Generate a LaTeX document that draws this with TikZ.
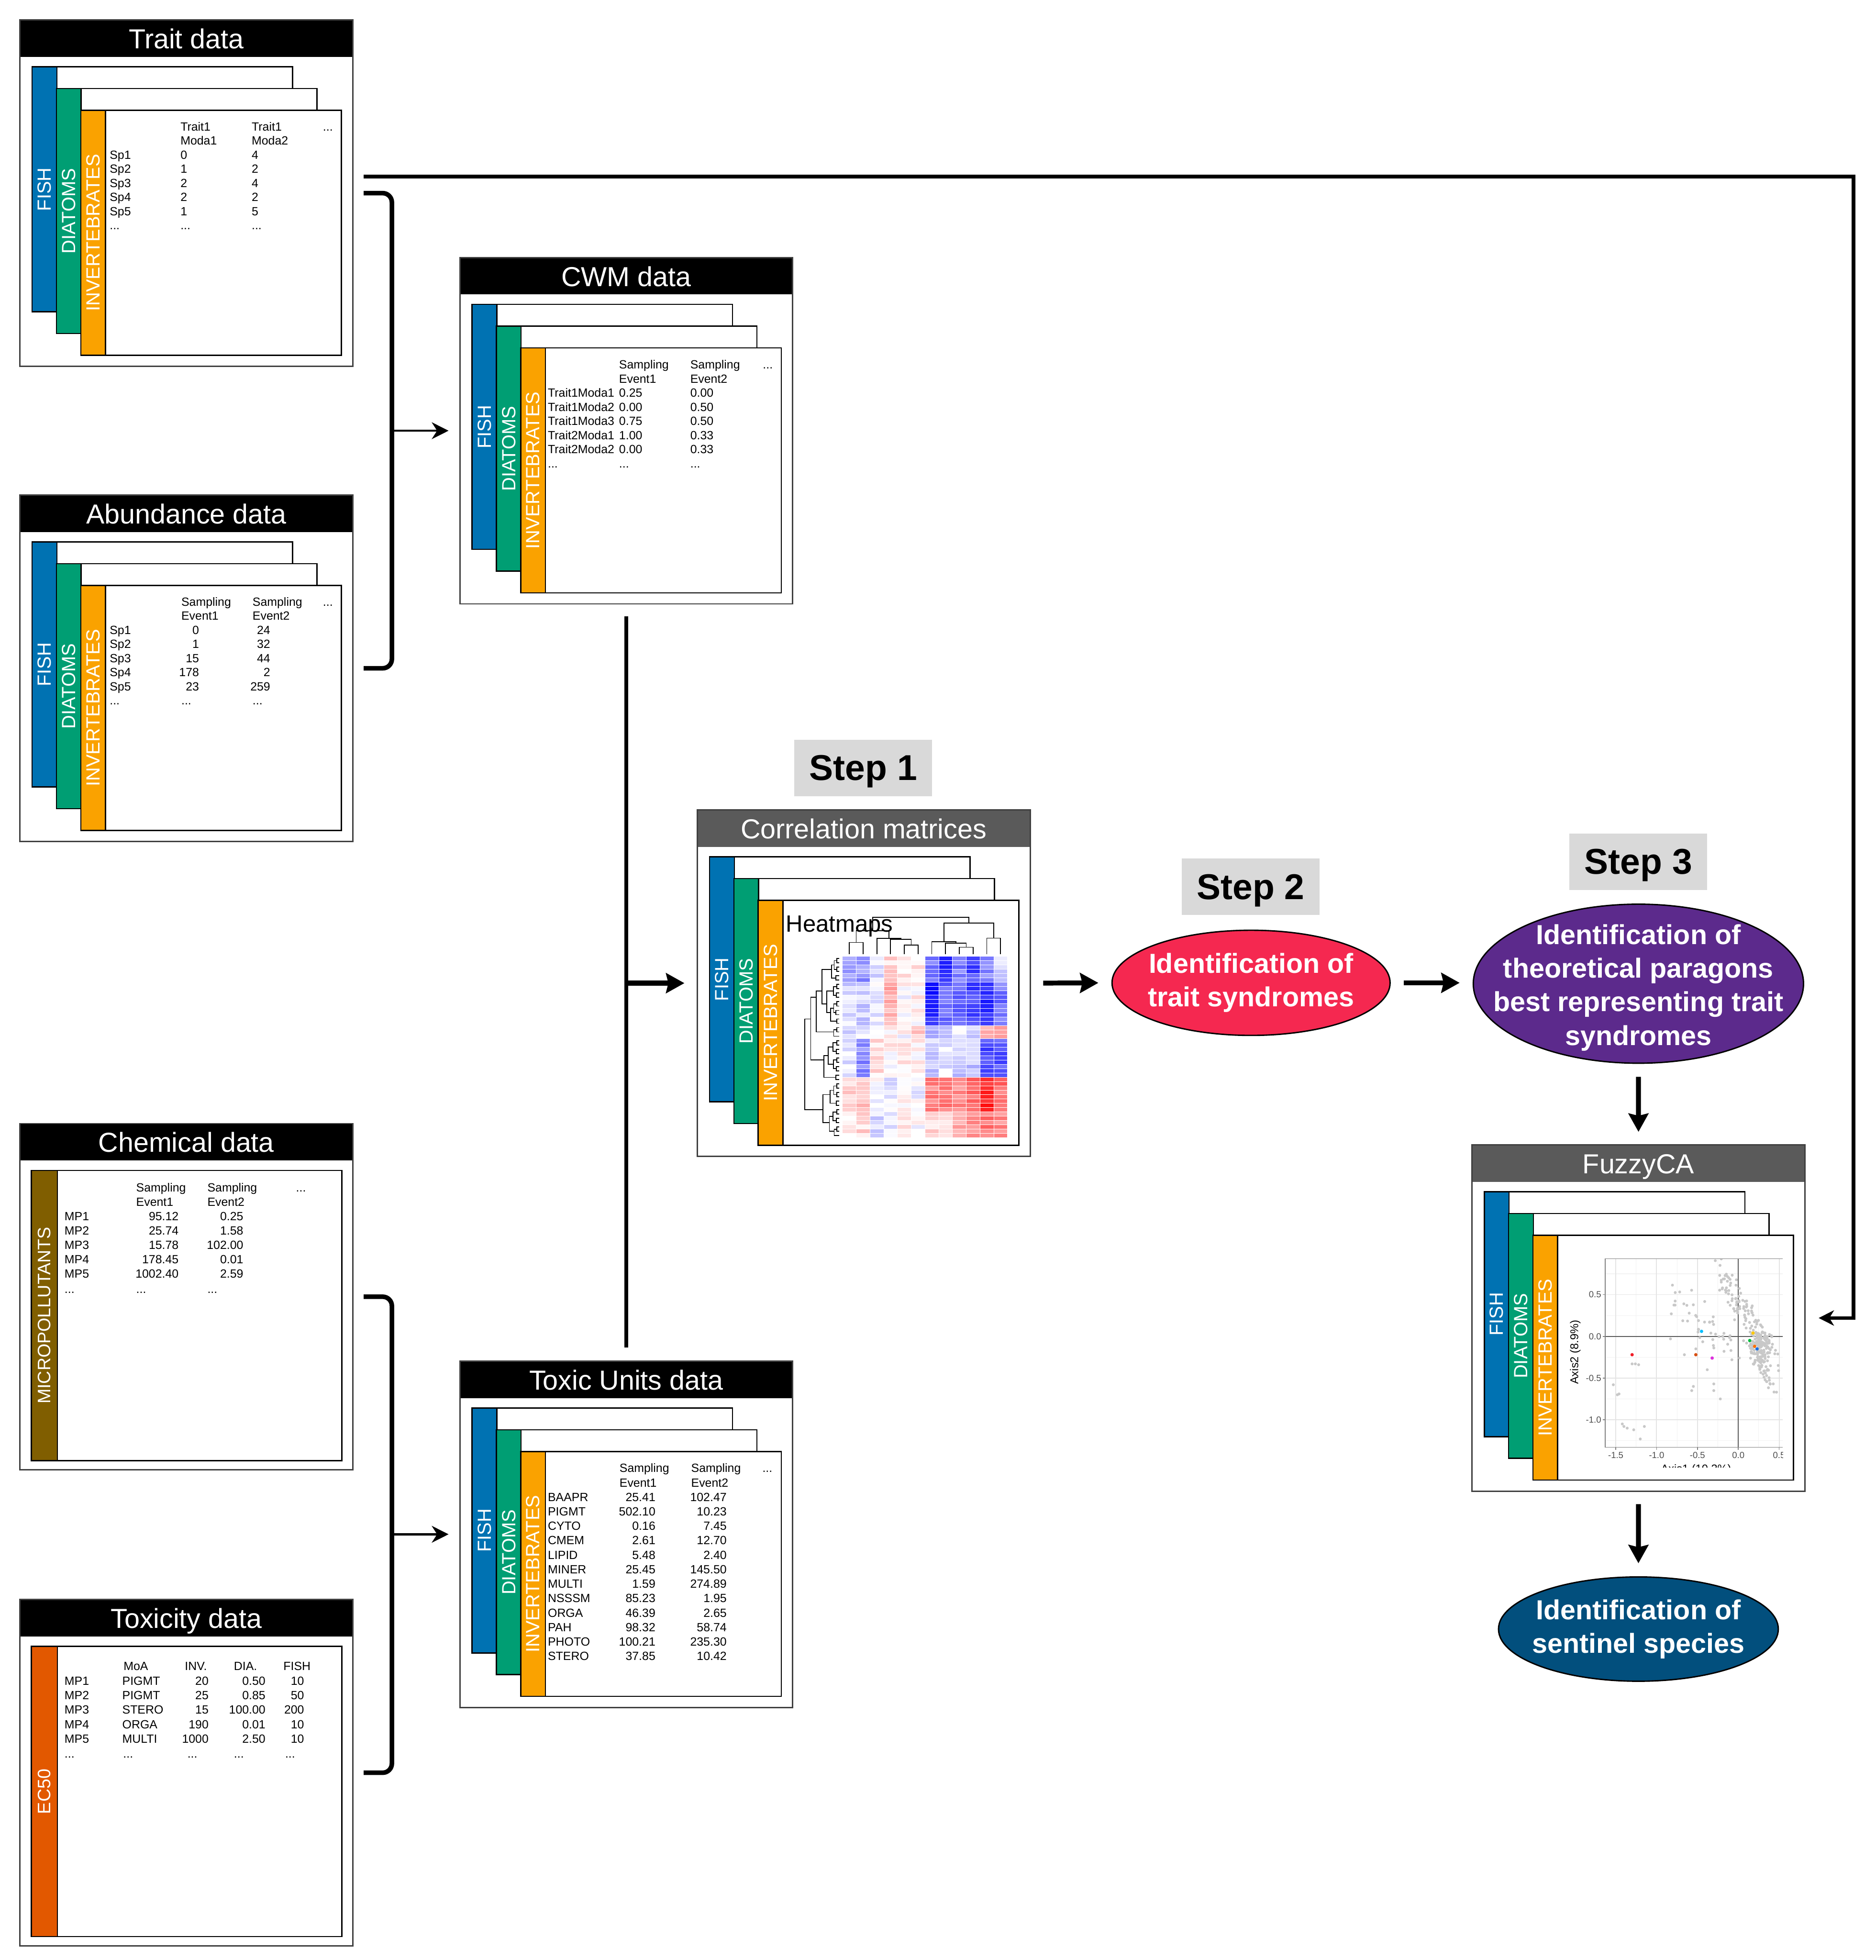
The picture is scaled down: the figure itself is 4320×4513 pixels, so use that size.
\documentclass[tikz,border=0pt]{standalone}
\usepackage{fontspec}
\setmainfont{Liberation Sans}
\usetikzlibrary{arrows.meta,calc,shapes.geometric}
\definecolor{fishc}{RGB}{0,114,178}
\definecolor{diac}{RGB}{0,158,115}
\definecolor{invc}{RGB}{250,162,0}
\definecolor{micc}{RGB}{128,94,0}
\definecolor{ecc}{RGB}{226,88,0}
\definecolor{hdrgray}{RGB}{90,90,90}
\definecolor{stepgray}{RGB}{217,217,217}
\definecolor{e1c}{RGB}{245,40,80}
\definecolor{e2c}{RGB}{92,42,140}
\definecolor{e3c}{RGB}{2,79,125}
\definecolor{ptgray}{RGB}{200,200,200}
\definecolor{gridmin}{RGB}{242,242,242}
\definecolor{gridmaj}{RGB}{228,228,228}
\definecolor{ptred}{RGB}{240,30,40}
\definecolor{ptbrown}{RGB}{215,80,20}
\definecolor{ptcyan}{RGB}{0,190,255}
\definecolor{ptmag}{RGB}{220,50,220}
\definecolor{ptyel}{RGB}{255,200,0}
\definecolor{ptgreen}{RGB}{0,190,60}
\definecolor{ptorange}{RGB}{255,110,0}
\definecolor{ptblue}{RGB}{20,110,230}

\tikzset{
 panelbox/.style={draw=none,fill=white,minimum width=7.66cm,minimum height=7.97cm,inner sep=0pt,outer sep=0pt,anchor=north west},
 panelline/.style={draw=black!75,line width=0.9pt},
 sheetline/.style={draw=black,line width=0.8pt},
 sidelabel/.style={text=white,font=\fontsize{12.5}{14}\selectfont,inner sep=0pt},
 cell/.style={font=\fontsize{7.8}{9}\selectfont,inner sep=0pt},
 titletext/.style={text=white,font=\fontsize{18}{21}\selectfont,inner sep=0pt,anchor=base},
 bracket/.style={line width=3pt,rounded corners=6pt},
 thinarrow/.style={line width=1.4pt,-{Stealth[length=11pt,width=11pt,inset=3.5pt]},shorten >=7.4pt},
 bigarrow/.style={line width=3.2pt,-{Stealth[length=12pt,width=13pt,inset=1.5pt]},shorten <=8.5pt,shorten >=8.5pt},
 vline/.style={line width=2.4pt},
 topline/.style={line width=2.3pt,-{Stealth[length=10pt,width=10pt,inset=3pt]},shorten >=9pt},
 stepbox/.style={fill=stepgray,minimum width=3.17cm,minimum height=1.3cm,inner sep=0pt,text depth=0pt,font=\bfseries\fontsize{23.5}{28}\selectfont},
 ellbox/.style={ellipse,draw=black,line width=0.9pt,inner sep=0pt},
 elltext/.style={text=white,align=center,inner sep=0pt,font=\bfseries\fontsize{18}{22}\selectfont},
 dend/.style={line width=0.55pt,black},
 gridminor/.style={gridmin,line width=0.35pt},
 gridmajor/.style={gridmaj,line width=0.6pt},
 zeroline/.style={black!65,line width=0.75pt},
 axisline/.style={black!50,line width=0.5pt},
 ticklab/.style={text=black!70,font=\fontsize{5.8}{7}\selectfont,inner sep=0pt},
 axislab/.style={text=black,font=\fontsize{7.4}{9}\selectfont,inner sep=0pt},
}

\newcommand\onesheet[5]{%
 \draw[sheetline,fill=white] ({#1},{#2}) rectangle ++(600,564);
 \draw[sheetline,fill=#3] ({#1},{#2}) rectangle ++(57,564);
 \node[sidelabel,rotate=90] (#5) at ({#1+28.5},{#2+282}) {#4};}
\newcommand\sheetstack[3]{%
 \onesheet{#1+28}{#2+108}{fishc}{FISH}{#3-fish}
 \onesheet{#1+84}{#2+158}{diac}{DIATOMS}{#3-dia}
 \onesheet{#1+140}{#2+208}{invc}{INVERTEBRATES}{#3-inv}}
\newcommand\singlesheet[5]{%
 \draw[sheetline,fill=white] ({#1+26},{#2+108}) rectangle ({#1+741},{#2+776});
 \draw[sheetline,fill=#3] ({#1+26},{#2+108}) rectangle ({#1+86},{#2+776});
 \node[sidelabel,font=\fontsize{11.8}{14}\selectfont,rotate=90] (#5) at ({#1+56},{#2+442}) {#4};}
\newcommand\panel[5]{%
 \node[panelbox] (#1) at ({#2},{#3}) {};
 \fill[#5] ({#2},{#3}) rectangle ({#2+766},{#3+85});
 \node[titletext] (#1-title) at ({#2+383},{#3+66}) {#4};}
\newcommand\panelframe[1]{\draw[panelline] (#1.north west) rectangle (#1.south east);}
\newcommand\cellL[4]{\node[cell,anchor=base west] (#1) at ({#2},{#3}) {#4};}
\newcommand\cellR[4]{\node[cell,anchor=base east] (#1) at ({#2},{#3}) {#4};}
\newcommand\hmrows[3]{%
 \foreach \hmr in {#1,...,#2}{%
  \foreach \hmc/\hmb in {#3}{%
   \pgfmathsetmacro\hmv{\hmb+0.26*(rnd-0.5)}%
   \pgfmathtruncatemacro\hmpc{min(100,abs(\hmv)*100)}%
   \pgfmathtruncatemacro\hmneg{\hmv<0}%
   \ifnum\hmneg=1 \def\hmcol{blue}\else\def\hmcol{red}\fi
   \filldraw[fill=\hmcol!\hmpc!white,draw=white,line width=0.25pt] ({1940+\hmc*31.667},{2202+\hmr*9.95}) rectangle ++(31.667,9.95);
  }}}
\newcommand\rowmerge[6]{%
 \draw[dend] ({#5},{2202+((#1+#2)/2+0.5)*9.95}) -| ({#4},{2202+((#2+1+#3)/2+0.5)*9.95}) -- ({#6},{2202+((#2+1+#3)/2+0.5)*9.95});}
\newcommand\colmerge[5]{\draw[dend] ({#1},{#2}) |- ({#3},{#5}) -- ({#3},{#4});}

\begin{document}
\begin{tikzpicture}[x=0.01cm,y=-0.01cm]
\useasboundingbox (0,0) rectangle (4320,4513);
\fill[white] (0,0) rectangle (4320,4513);
\pgfmathsetseed{17}

% ---------- Trait data
\panel{trait}{46}{46}{Trait data}{black}
\sheetstack{46}{46}{trait}
\def\PX{46}\def\PY{46}
\cellL{tr-h1}{\PX+369}{\PY+255}{Trait1}
\cellL{tr-h2}{\PX+533}{\PY+255}{Trait1}
\cellL{tr-h3}{\PX+697}{\PY+255}{...}
\cellL{tr-g1}{\PX+369}{\PY+287.5}{Moda1}
\cellL{tr-g2}{\PX+533}{\PY+287.5}{Moda2}
\foreach \xa/\xb/\xc [count=\ri] in {Sp1/0/4,Sp2/1/2,Sp3/2/4,Sp4/2/2,Sp5/1/5}{
 \cellL{tr-a\ri}{\PX+206}{\PY+287.5+32.5*\ri}{\xa}
 \cellL{tr-b\ri}{\PX+369}{\PY+287.5+32.5*\ri}{\xb}
 \cellL{tr-c\ri}{\PX+533}{\PY+287.5+32.5*\ri}{\xc}}
\cellL{tr-d1}{\PX+206}{\PY+482.5}{...}
\cellL{tr-d2}{\PX+369}{\PY+482.5}{...}
\cellL{tr-d3}{\PX+533}{\PY+482.5}{...}
\panelframe{trait}

% ---------- Abundance data
\panel{abund}{46}{1140}{Abundance data}{black}
\sheetstack{46}{1140}{abund}
\def\PX{46}\def\PY{1140}
\cellL{ab-h1}{\PX+371}{\PY+255}{Sampling}
\cellL{ab-h2}{\PX+535}{\PY+255}{Sampling}
\cellL{ab-h3}{\PX+697}{\PY+255}{...}
\cellL{ab-g1}{\PX+371}{\PY+287.5}{Event1}
\cellL{ab-g2}{\PX+535}{\PY+287.5}{Event2}
\foreach \xa/\xb/\xc [count=\ri] in {Sp1/0/24,Sp2/1/32,Sp3/15/44,Sp4/178/2,Sp5/23/259}{
 \cellL{ab-a\ri}{\PX+206}{\PY+287.5+32.5*\ri}{\xa}
 \cellR{ab-b\ri}{\PX+413}{\PY+287.5+32.5*\ri}{\xb}
 \cellR{ab-c\ri}{\PX+577}{\PY+287.5+32.5*\ri}{\xc}}
\cellL{ab-d1}{\PX+206}{\PY+482.5}{...}
\cellL{ab-d2}{\PX+371}{\PY+482.5}{...}
\cellL{ab-d3}{\PX+535}{\PY+482.5}{...}
\panelframe{abund}

% ---------- CWM data
\panel{cwm}{1059}{593}{CWM data}{black}
\sheetstack{1059}{593}{cwm}
\def\PX{1059}\def\PY{593}
\cellL{cw-h1}{\PX+366}{\PY+256}{Sampling}
\cellL{cw-h2}{\PX+530}{\PY+256}{Sampling}
\cellL{cw-h3}{\PX+697}{\PY+256}{...}
\cellL{cw-g1}{\PX+366}{\PY+288.5}{Event1}
\cellL{cw-g2}{\PX+530}{\PY+288.5}{Event2}
\foreach \xa/\xb/\xc [count=\ri] in {Trait1Moda1/0.25/0.00,Trait1Moda2/0.00/0.50,Trait1Moda3/0.75/0.50,Trait2Moda1/1.00/0.33,Trait2Moda2/0.00/0.33}{
 \cellL{cw-a\ri}{\PX+202}{\PY+288.5+32.5*\ri}{\xa}
 \cellL{cw-b\ri}{\PX+366}{\PY+288.5+32.5*\ri}{\xb}
 \cellL{cw-c\ri}{\PX+530}{\PY+288.5+32.5*\ri}{\xc}}
\cellL{cw-d1}{\PX+202}{\PY+483.5}{...}
\cellL{cw-d2}{\PX+366}{\PY+483.5}{...}
\cellL{cw-d3}{\PX+530}{\PY+483.5}{...}
\panelframe{cwm}

% ---------- Chemical data
\panel{chem}{46}{2587}{Chemical data}{black}
\singlesheet{46}{2587}{micc}{MICROPOLLUTANTS}{chem-mp}
\def\PX{46}\def\PY{2587}
\cellL{ch-h1}{\PX+267}{\PY+157}{Sampling}
\cellL{ch-h2}{\PX+431}{\PY+157}{Sampling}
\cellL{ch-h3}{\PX+635}{\PY+157}{...}
\cellL{ch-g1}{\PX+267}{\PY+190}{Event1}
\cellL{ch-g2}{\PX+431}{\PY+190}{Event2}
\foreach \xa/\xb/\xc [count=\ri] in {MP1/95.12/0.25,MP2/25.74/1.58,MP3/15.78/102.00,MP4/178.45/0.01,MP5/1002.40/2.59}{
 \cellL{ch-a\ri}{\PX+102}{\PY+190+33*\ri}{\xa}
 \cellR{ch-b\ri}{\PX+366}{\PY+190+33*\ri}{\xb}
 \cellR{ch-c\ri}{\PX+515}{\PY+190+33*\ri}{\xc}}
\cellL{ch-d1}{\PX+102}{\PY+391}{...}
\cellL{ch-d2}{\PX+267}{\PY+391}{...}
\cellL{ch-d3}{\PX+431}{\PY+391}{...}
\panelframe{chem}

% ---------- Toxicity data
\panel{tox}{46}{3683}{Toxicity data}{black}
\singlesheet{46}{3683}{ecc}{EC50}{tox-ec}
\def\PX{46}\def\PY{3683}
\cellL{tx-h1}{\PX+238}{\PY+163}{MoA}
\cellL{tx-h2}{\PX+379}{\PY+163}{INV.}
\cellL{tx-h3}{\PX+492}{\PY+163}{DIA.}
\cellL{tx-h4}{\PX+606}{\PY+163}{FISH}
\foreach \xa/\xb/\xc/\xd/\xe [count=\ri] in {MP1/PIGMT/20/0.50/10,MP2/PIGMT/25/0.85/50,MP3/STERO/15/100.00/200,MP4/ORGA/190/0.01/10,MP5/MULTI/1000/2.50/10}{
 \cellL{tx-a\ri}{\PX+102}{\PY+163+33.5*\ri}{\xa}
 \cellL{tx-b\ri}{\PX+235}{\PY+163+33.5*\ri}{\xb}
 \cellR{tx-c\ri}{\PX+435}{\PY+163+33.5*\ri}{\xc}
 \cellR{tx-e\ri}{\PX+566}{\PY+163+33.5*\ri}{\xd}
 \cellR{tx-f\ri}{\PX+655}{\PY+163+33.5*\ri}{\xe}}
\cellL{tx-d1}{\PX+102}{\PY+364}{...}
\cellL{tx-d2}{\PX+237}{\PY+364}{...}
\cellL{tx-d3}{\PX+385}{\PY+364}{...}
\cellL{tx-d4}{\PX+492}{\PY+364}{...}
\cellL{tx-d5}{\PX+610}{\PY+364}{...}
\panelframe{tox}

% ---------- Toxic Units data
\panel{tu}{1059}{3134}{Toxic Units data}{black}
\sheetstack{1059}{3134}{tu}
\def\PX{1059}\def\PY{3134}
\cellL{tu-h1}{\PX+367}{\PY+256}{Sampling}
\cellL{tu-h2}{\PX+532}{\PY+256}{Sampling}
\cellL{tu-h3}{\PX+696}{\PY+256}{...}
\cellL{tu-g1}{\PX+367}{\PY+289.3}{Event1}
\cellL{tu-g2}{\PX+532}{\PY+289.3}{Event2}
\foreach \xa/\xb/\xc [count=\ri] in {BAAPR/25.41/102.47,PIGMT/502.10/10.23,CYTO/0.16/7.45,CMEM/2.61/12.70,LIPID/5.48/2.40,MINER/25.45/145.50,MULTI/1.59/274.89,NSSSM/85.23/1.95,ORGA/46.39/2.65,PAH/98.32/58.74,PHOTO/100.21/235.30,STERO/37.85/10.42}{
 \cellL{tu-a\ri}{\PX+202}{\PY+289.3+33.3*\ri}{\xa}
 \cellR{tu-b\ri}{\PX+451}{\PY+289.3+33.3*\ri}{\xb}
 \cellR{tu-c\ri}{\PX+615}{\PY+289.3+33.3*\ri}{\xc}}
\panelframe{tu}

% ---------- Correlation matrices
\panel{corr}{1606}{1865}{Correlation matrices}{hdrgray}
\sheetstack{1606}{1865}{corr}
\node[anchor=base west,inner sep=0pt,font=\fontsize{15.4}{18}\selectfont] (hmlabel) at (1809,2146) {Heatmaps};
\hmrows{0}{5}{0/-0.4,1/-0.42,2/-0.12,3/0.14,4/0.1,5/0.12,6/-0.5,7/-0.78,8/-0.5,9/-0.7,10/-0.45,11/-0.15}
\hmrows{6}{15}{0/-0.15,1/-0.18,2/-0.1,3/0.3,4/0.0,5/0.05,6/-0.85,7/-0.6,8/-0.62,9/-0.72,10/-0.85,11/-0.55}
\hmrows{16}{18}{0/-0.2,1/-0.1,2/-0.05,3/0.05,4/0.0,5/0.25,6/-0.3,7/-0.35,8/-0.1,9/-0.15,10/0.3,11/0.3}
\hmrows{19}{27}{0/-0.1,1/-0.45,2/0.12,3/0.05,4/0.05,5/0.05,6/-0.2,7/-0.1,8/-0.2,9/-0.25,10/-0.7,11/-0.65}
\hmrows{28}{35}{0/0.15,1/0.25,2/-0.05,3/-0.1,4/0.08,5/-0.05,6/0.5,7/0.5,8/0.45,9/0.55,10/0.85,11/0.55}
\hmrows{36}{41}{0/0.1,1/0.15,2/-0.15,3/-0.12,4/0.05,5/0.0,6/0.15,7/0.1,8/0.3,9/0.4,10/0.55,11/0.45}
% row dendrogram
\rowmerge{0}{0}{1}{1927}{1933}{1933}
\rowmerge{2}{2}{3}{1927}{1933}{1933}
\rowmerge{4}{4}{5}{1925}{1933}{1933}
\rowmerge{0}{1}{3}{1921}{1927}{1927}
\rowmerge{0}{3}{5}{1915}{1921}{1925}
\rowmerge{6}{6}{7}{1927}{1933}{1933}
\rowmerge{8}{8}{9}{1926}{1933}{1933}
\rowmerge{10}{10}{11}{1927}{1933}{1933}
\rowmerge{12}{12}{13}{1925}{1933}{1933}
\rowmerge{14}{14}{15}{1927}{1933}{1933}
\rowmerge{6}{7}{9}{1919}{1927}{1926}
\rowmerge{10}{11}{13}{1920}{1927}{1925}
\rowmerge{10}{13}{15}{1913}{1920}{1927}
\rowmerge{6}{9}{15}{1904}{1919}{1913}
\rowmerge{0}{5}{15}{1893}{1915}{1904}
\rowmerge{16}{16}{17}{1927}{1933}{1933}
\rowmerge{16}{17}{18}{1920}{1927}{1933}
\rowmerge{0}{15}{18}{1880}{1893}{1920}
\rowmerge{19}{19}{20}{1927}{1933}{1933}
\rowmerge{21}{21}{22}{1926}{1933}{1933}
\rowmerge{19}{20}{22}{1918}{1927}{1926}
\rowmerge{23}{23}{24}{1927}{1933}{1933}
\rowmerge{25}{25}{26}{1926}{1933}{1933}
\rowmerge{23}{24}{26}{1919}{1927}{1926}
\rowmerge{19}{22}{26}{1907}{1918}{1919}
\rowmerge{27}{27}{28}{1925}{1933}{1933}
\rowmerge{19}{26}{28}{1897}{1907}{1925}
\rowmerge{0}{18}{28}{1867}{1880}{1897}
\rowmerge{29}{29}{30}{1927}{1933}{1933}
\rowmerge{31}{31}{32}{1927}{1933}{1933}
\rowmerge{29}{30}{32}{1920}{1927}{1927}
\rowmerge{33}{33}{34}{1926}{1933}{1933}
\rowmerge{29}{32}{34}{1912}{1920}{1926}
\rowmerge{35}{35}{36}{1927}{1933}{1933}
\rowmerge{37}{37}{38}{1926}{1933}{1933}
\rowmerge{35}{36}{38}{1918}{1927}{1926}
\rowmerge{39}{39}{40}{1927}{1933}{1933}
\rowmerge{39}{40}{41}{1921}{1927}{1933}
\rowmerge{35}{38}{41}{1910}{1918}{1921}
\rowmerge{29}{34}{41}{1895}{1912}{1910}
\rowmerge{0}{28}{41}{1853}{1867}{1895}
% column dendrogram
\colmerge{1955.8}{2197}{1987.5}{2197}{2170}
\colmerge{2082.5}{2197}{2114.2}{2197}{2176}
\colmerge{2050.8}{2197}{2098.3}{2176}{2163}
\colmerge{2019.2}{2197}{2074.6}{2163}{2161}
\colmerge{1971.7}{2170}{2046.9}{2161}{2143}
\colmerge{2209.2}{2197}{2240.8}{2197}{2181}
\colmerge{2177.5}{2197}{2225}{2181}{2172}
\colmerge{2145.8}{2197}{2201.3}{2172}{2168}
\colmerge{2272.5}{2197}{2304.2}{2197}{2160}
\colmerge{2173.5}{2168}{2288.3}{2160}{2125}
\colmerge{2009.3}{2143}{2230.9}{2125}{2112}
\panelframe{corr}

% ---------- FuzzyCA
\panel{fuzzy}{3390}{2636}{FuzzyCA}{hdrgray}
\sheetstack{3390}{2636}{fuzzy}
\begin{scope}[shift={(4003,3077)},x=1.88cm,y=1.92cm]
 \begin{scope}
  \clip (-1.63,-1.33) rectangle (0.545,0.93);
  \foreach \g in {-1.25,-0.75,-0.25,0.25}{\draw[gridminor] (\g,-1.4) -- (\g,1);}
  \foreach \g in {-1.25,-0.75,-0.25,0.25,0.75}{\draw[gridminor] (-1.7,\g) -- (0.6,\g);}
  \foreach \g in {-1.5,-1,-0.5,0.5}{\draw[gridmajor] (\g,-1.4) -- (\g,1);}
  \foreach \g in {-1,-0.5,0.5}{\draw[gridmajor] (-1.7,\g) -- (0.6,\g);}
  \draw[zeroline] (-1.7,0) -- (0.6,0);
  \draw[zeroline] (0,-1.4) -- (0,1);
  \foreach \i in {1,...,150}{
   \pgfmathsetmacro\fpt{rnd}
   \pgfmathsetmacro\fpx{-0.2+0.6*\fpt+0.24*(rnd-0.5)}
   \pgfmathsetmacro\fpy{0.8-1.2*\fpt+0.26*(rnd-0.5)}
   \fill[ptgray] (\fpx,\fpy) circle[radius=0.95pt];}
  \foreach \i in {1,...,110}{
   \pgfmathsetmacro\fpx{0.27+0.17*(rnd+rnd-1)}
   \pgfmathsetmacro\fpy{-0.13+0.22*(rnd+rnd-1)}
   \fill[ptgray] (\fpx,\fpy) circle[radius=0.95pt];}
  \foreach \i in {1,...,30}{
   \pgfmathsetmacro\fpt{rnd}
   \pgfmathsetmacro\fpx{0.22+0.22*\fpt+0.1*(rnd-0.5)}
   \pgfmathsetmacro\fpy{-0.25-0.4*\fpt+0.12*(rnd-0.5)}
   \fill[ptgray] (\fpx,\fpy) circle[radius=0.95pt];}
  \foreach \i in {1,...,45}{
   \pgfmathsetmacro\fpt{rnd}
   \pgfmathsetmacro\fpx{-0.7+0.6*\fpt+0.25*(rnd-0.5)}
   \pgfmathsetmacro\fpy{0.45-0.6*\fpt+0.35*(rnd-0.5)}
   \fill[ptgray] (\fpx,\fpy) circle[radius=0.95pt];}
  \foreach \ox/\oy in {-1.53/-0.58,-1.48/-0.7,-1.46/-0.69,-1.42/-1.05,-1.4/-1.08,-1.36/-1.1,-1.28/-1.12,-1.2/-1.23,-1.15/-1.08,-1.3/-0.33,-1.26/-0.33,-1.22/-0.34,-0.82/0.27,-0.83/-0.03,-0.57/-0.65,-0.55/-0.6,-0.22/-0.75,-0.3/-0.57,-0.3/-0.65,-0.66/-0.22,-0.52/-0.15,-0.38/-0.4}{
   \fill[ptgray] (\ox,\oy) circle[radius=0.95pt];}
  \fill[ptred] (-1.3,-0.22) circle[radius=1.1pt];
  \fill[ptbrown] (-0.52,-0.22) circle[radius=1.1pt];
  \fill[ptcyan] (-0.45,0.06) circle[radius=1.1pt];
  \fill[ptmag] (-0.32,-0.26) circle[radius=1.1pt];
  \fill[ptyel] (0.18,0.04) circle[radius=1.1pt];
  \fill[ptgreen] (0.14,-0.05) circle[radius=1.1pt];
  \fill[ptorange] (0.2,-0.12) circle[radius=1.1pt];
  \fill[ptblue] (0.23,-0.15) circle[radius=1.1pt];
 \end{scope}
 \draw[axisline] (0.545,0.93) -- (-1.63,0.93) -- (-1.63,-1.33) -- (0.545,-1.33);
 \foreach \v/\l [count=\ri] in {0.5/0.5,0/0.0,-0.5/-0.5,-1/-1.0}{
  \draw[axisline] (-1.63,\v) -- (-1.66,\v);
  \node[ticklab,anchor=east] (fyt\ri) at (-1.675,\v) {\l};}
 \begin{scope}
  \clip (-2.3,-1.573) rectangle (0.545,1);
  \foreach \v/\l [count=\ri] in {-1.5/-1.5,-1/-1.0,-0.5/-0.5,0/0.0,0.5/0.5}{
   \draw[axisline] (\v,-1.33) -- (\v,-1.36);
   \node[ticklab,anchor=north] (fxt\ri) at (\v,-1.385) {\l};}
  \node[axislab] (fxlab) at (-0.516,-1.6) {Axis1 (10.3\%)};
 \end{scope}
 \node[axislab,rotate=90] (fylab) at (-1.995,-0.19) {Axis2 (8.9\%)};
\end{scope}
\panelframe{fuzzy}

% ---------- Steps and ellipses
\node[stepbox] (s1) at (1988,1768) {Step 1};
\node[stepbox] (s2) at (2880,2042) {Step 2};
\node[stepbox] (s3) at (3773,1984) {Step 3};
\node[ellbox,fill=e1c,minimum width=6.4cm,minimum height=2.42cm] (e1) at (2881,2263) {};
\node[elltext] (e1t) at (2881,2263) {Identification of\\trait syndromes};
\node[ellbox,fill=e2c,minimum width=7.6cm,minimum height=3.66cm] (e2) at (3773,2265) {};
\node[elltext] (e2t) at (3773,2274) {Identification of\\theoretical paragons\\best representing trait\\syndromes};
\node[ellbox,fill=e3c,minimum width=6.44cm,minimum height=2.4cm] (e3) at (3773,3751) {};
\node[elltext] (e3t) at (3773,3751) {Identification of\\sentinel species};

% ---------- Connectors
\coordinate (tl) at ($(trait.east)+(25,-38)$);
\draw[topline] (tl) -| ($(fuzzy.east)+(112,0)$) -- (fuzzy.east);

\draw[bracket] ($(trait.east)+(25,0)$) -| ($(abund.east)+(90,0)$) -- ($(abund.east)+(25,0)$);
\coordinate (bk1) at ($(trait.east)+(90,0)$);
\draw[thinarrow] (bk1 |- cwm.west) -- (cwm.west);

\draw[bracket] ($(chem.east)+(25,0)$) -| ($(tox.east)+(90,0)$) -- ($(tox.east)+(25,0)$);
\coordinate (bk2) at ($(chem.east)+(90,0)$);
\draw[thinarrow] (bk2 |- tu.west) -- (tu.west);

\draw[vline,shorten <=8.2pt,shorten >=8.8pt] (cwm.south) -- (tu.north);
\draw[bigarrow,shorten <=0pt] (cwm.south |- corr.west) -- (corr.west);
\draw[bigarrow] (corr.east) -- (e1.west);
\draw[bigarrow] (e1.east) -- (e2.west |- e1.east);
\draw[bigarrow] (e2.south) -- (fuzzy.north);
\draw[bigarrow] (fuzzy.south) -- (e3.north);
\end{tikzpicture}
\end{document}
